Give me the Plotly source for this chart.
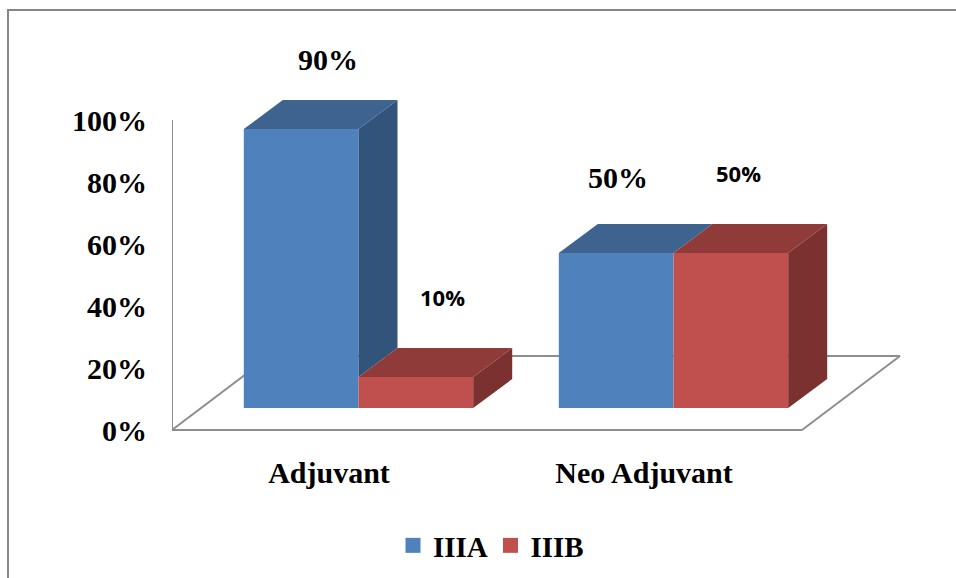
import plotly.graph_objects as go

categories = ["Adjuvant", "Neo Adjuvant"]
series_names = ["IIIA", "IIIB"]
iiia_values = [90, 50]
iiib_values = [10, 50]
y_ticks = [0, 20, 40, 60, 80, 100]
y_tick_labels = ["0%", "20%", "40%", "60%", "80%", "100%"]

W, H = 956, 578
M_L = 172
AXIS_PY = 430
PX_PER_PCT = 3.1
PX_PER_CAT = 315.0
CAT0_PX = 358.5
plot_w = W - M_L
plot_h = H

def ux(px):
    return px / PX_PER_CAT

def uy(px):
    return px / PX_PER_PCT

x_lo = ux(M_L - CAT0_PX)
x_hi = x_lo + ux(plot_w)
y_hi = uy(AXIS_PY)
y_lo = -uy(H - AXIS_PY)

BAR_W = ux(114.7)
DX = ux(39)
DY = uy(29)
BASE = uy(22)
FLOOR_DX = ux(98)
FLOOR_DY = uy(74)
FLOOR_W = ux(630)

BLUE, BLUE_TOP, BLUE_SIDE = "#4F81BD", "#3F638F", "#32537A"
RED, RED_TOP, RED_SIDE = "#C0504D", "#8F3B39", "#7A312F"
GRAY = "#8E8E8E"
SERIF = "Liberation Serif"

fig = go.Figure()

def add_bar(name, values, offset, color):
    fig.add_trace(go.Bar(
        x=list(range(len(values))), y=values, base=BASE, width=BAR_W, offset=offset,
        name=name, marker=dict(color=color, line=dict(width=0)),
        showlegend=False, hoverinfo="skip",
    ))

def add_poly(xs, ys, color):
    fig.add_trace(go.Scatter(
        x=xs + xs[:1], y=ys + ys[:1], mode="lines", fill="toself", fillcolor=color,
        line=dict(width=0, color=color), showlegend=False, hoverinfo="skip",
    ))

def add_3d(values, front_values, offset, top_color, side_color):
    """front_values: the bar directly to the right, which hides the lower part of the side."""
    for i, v in enumerate(values):
        l = i + offset
        r = l + BAR_W
        t = BASE + v
        b = BASE + min(front_values[i], v)
        if t > b:
            add_poly([r, r + DX, r + DX, r], [b, b + DY, t + DY, t], side_color)
        add_poly([l, l + DX, r + DX, r], [t, t + DY, t + DY, t], top_color)

add_bar(series_names[0], iiia_values, -BAR_W, BLUE)
add_bar(series_names[1], iiib_values, 0, RED)

add_3d(iiia_values, iiib_values, -BAR_W, BLUE_TOP, BLUE_SIDE)
add_3d(iiib_values, [0, 0], 0, RED_TOP, RED_SIDE)

for name, color in zip(series_names, [BLUE, RED]):
    fig.add_trace(go.Scatter(
        x=[None], y=[None], mode="markers", name=name,
        marker=dict(symbol="square", size=15, color=color),
    ))

def line_shape(x0, y0, x1, y1):
    return dict(type="line", layer="below", xref="x", yref="y", x0=x0, y0=y0, x1=x1, y1=y1,
                line=dict(color=GRAY, width=2))

shapes = [
    line_shape(x_lo, 0, x_lo, 100),
    line_shape(x_lo, 0, x_lo + FLOOR_W, 0),
    line_shape(x_lo, 0, x_lo + FLOOR_DX, FLOOR_DY),
    line_shape(x_lo + FLOOR_W, 0, x_lo + FLOOR_W + FLOOR_DX, FLOOR_DY),
    line_shape(x_lo + FLOOR_DX, FLOOR_DY, x_lo + FLOOR_W + FLOOR_DX, FLOOR_DY),
]

def px_x(px):
    return (px - M_L) / plot_w

def px_y(py):
    return (H - py) / plot_h

for x0, y0, x1, y1 in [(8, 10, 8, 578), (7, 10, 956, 10)]:
    shapes.append(dict(type="line", xref="paper", yref="paper",
                       x0=px_x(x0), y0=px_y(y0), x1=px_x(x1), y1=px_y(y1),
                       line=dict(color="#868686", width=2)))

def data_label(i, offset_px, value, lift_px, font):
    return dict(x=i + ux(offset_px), y=BASE + value + uy(lift_px), text=f"{value}%",
                xref="x", yref="y", showarrow=False, xanchor="center", yanchor="middle",
                font=font)

serif_font = dict(family=SERIF, size=30, color="black", weight="bold")
sans_font = dict(family="Open Sans", size=22, color="black", weight="bold")

annotations = [
    data_label(0, -31, iiia_values[0], 70, serif_font),
    data_label(1, -55.5, iiia_values[1], 76, serif_font),
    data_label(0, 83.5, iiib_values[0], 80, sans_font),
    data_label(1, 64.5, iiib_values[1], 80, sans_font),
]

LABEL_SHIFT = ux(-29.5)

fig.update_layout(
    width=W, height=H, autosize=False,
    margin=dict(l=M_L, r=0, t=0, b=0, pad=0),
    paper_bgcolor="white", plot_bgcolor="white",
    barmode="overlay", shapes=shapes, annotations=annotations,
    xaxis=dict(range=[x_lo, x_hi], showgrid=False, zeroline=False, showline=False,
               anchor="free", position=px_y(AXIS_PY),
               tickmode="array", tickvals=[i + LABEL_SHIFT for i in range(len(categories))],
               ticktext=categories, ticks="outside", ticklen=16, tickcolor="rgba(0,0,0,0)",
               tickfont=dict(family=SERIF, size=30, color="black", weight="bold")),
    yaxis=dict(range=[y_lo, y_hi], showgrid=False, zeroline=False, showline=False,
               tickmode="array", tickvals=y_ticks, ticktext=y_tick_labels,
               ticks="outside", ticklen=18, tickcolor="rgba(0,0,0,0)",
               tickfont=dict(family=SERIF, size=30, color="black", weight="bold")),
    legend=dict(orientation="h", x=px_x(393), y=px_y(520), xanchor="left", yanchor="top",
                font=dict(family=SERIF, size=29, color="black", weight="bold"),
                entrywidth=52.5, entrywidthmode="pixels", bgcolor="rgba(0,0,0,0)",
                itemclick=False, itemdoubleclick=False),
    hovermode=False,
)

fig.write_html("out.html", config=dict(displayModeBar=False),
               post_script="document.body.style.margin='0';")
